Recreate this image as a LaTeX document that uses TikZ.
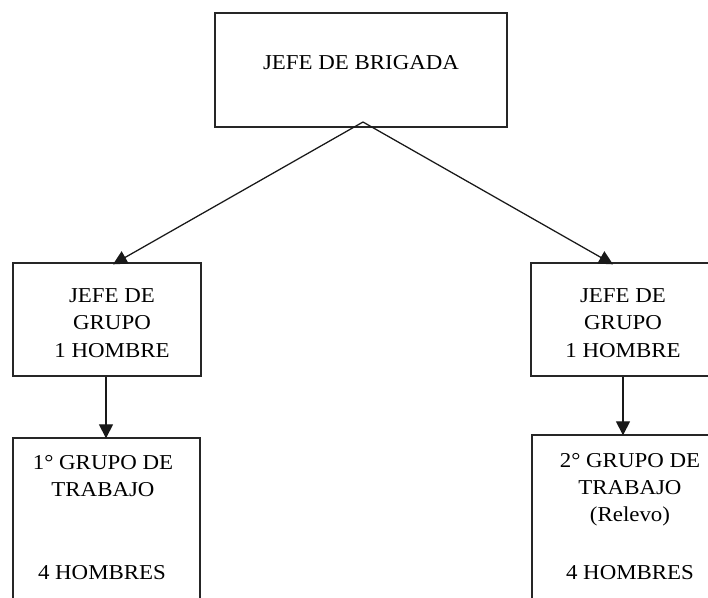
\documentclass[tikz,border=0pt]{standalone}
\usepackage{fontspec}
\setmainfont{Liberation Serif}[FakeStretch=1.08]
\usetikzlibrary{arrows.meta,calc}
\tikzset{
  box/.style={draw=black!85, line width=1pt, rectangle, inner sep=0pt},
  lbl/.style={align=center, inner sep=0pt, font=\fontsize{15.9pt}{20.4pt}\selectfont, text=black},
  conn/.style={draw=black!90, line width=0.95pt, -{Triangle[length=10.5pt,width=10.5pt]}}
}
\begin{document}
\begin{tikzpicture}[x=0.75pt,y=-0.75pt]
\useasboundingbox (0,0) rectangle (708,598);
\clip (0,0) rectangle (708,598);
% boxes
\node[box, minimum width=219pt, minimum height=85.5pt] (top) at (361,70) {};
\node[box, minimum width=141pt, minimum height=84.75pt] (midL) at (107,319.5) {};
\node[box, minimum width=141pt, minimum height=84.75pt] (midR) at (625,319.5) {};
\node[box, minimum width=140.25pt, minimum height=135pt] (botL) at (106.5,528) {};
\node[box, minimum width=141pt, minimum height=135pt] (botR) at (626,525) {};
% texts
\node[lbl] (tTop) at (361,63) {JEFE DE BRIGADA};
\node[lbl] (tMidL) at (112,323) {JEFE DE\\GRUPO\\1 HOMBRE};
\node[lbl] (tMidR) at (623,323) {JEFE DE\\GRUPO\\1 HOMBRE};
\node[lbl] (tBotL) at (103,476) {1° GRUPO DE\\TRABAJO};
\node[lbl] (tBotL2) at (102,573) {4 HOMBRES};
\node[lbl] (tBotR) at (630,490) {2° GRUPO DE\\TRABAJO\\(Relevo)};
\node[lbl] (tBotR2) at (630,573) {4 HOMBRES};
% connectors
\coordinate (apex) at (363,122);
\draw[conn] (apex) -- ($(midL.north)+(6,2)$);
\draw[conn] (apex) -- ($(midR.north)+(-12,2)$);
\draw[conn] ($(midL.south)+(-1,0)$) -- ($(botL.north)+(-0.5,1)$);
\draw[conn] ($(midR.south)+(-2,0)$) -- ($(botR.north)+(-3,1)$);
\end{tikzpicture}
\end{document}
